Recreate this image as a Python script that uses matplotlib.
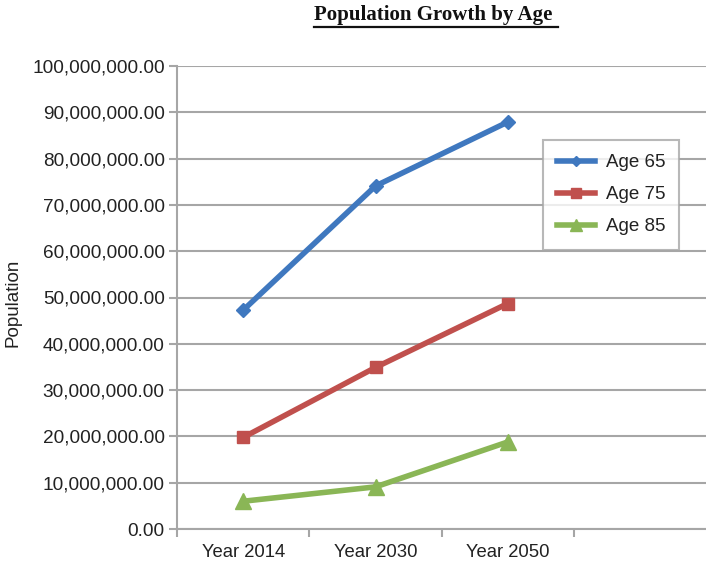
import matplotlib
matplotlib.use("Agg")
import matplotlib.pyplot as plt
from matplotlib.lines import Line2D
from matplotlib.ticker import FuncFormatter, FixedLocator, MultipleLocator

categories = ["Year 2014", "Year 2030", "Year 2050"]
age65 = [47.3e6, 74.1e6, 87.9e6]
age75 = [19.8e6, 34.9e6, 48.7e6]
age85 = [6.0e6, 9.1e6, 18.8e6]
series_names = ["Age 65", "Age 75", "Age 85"]

W, H = 706, 562
L, R, T, B = 177.3, 706, 66, 529
fig = plt.figure(figsize=(W/100, H/100), dpi=100)
ax = fig.add_axes([L/W, 1-B/H, (R-L)/W, (B-T)/H])

grid_col = "#a6a6a6"
text_col = "#222222"
x = list(range(len(categories)))
ax.plot(x, age65, color="#3F78BF", lw=4, marker="D", ms=7, label=series_names[0], zorder=3)
ax.plot(x, age75, color="#C0504D", lw=4, marker="s", ms=9, label=series_names[1], zorder=3)
ax.plot(x, age85, color="#8AB656", lw=4, marker="^", ms=11, label=series_names[2], zorder=3)

ax.set_xlim(-0.5, 3.5)
ax.set_ylim(0, 100e6)
ax.yaxis.set_major_locator(MultipleLocator(10e6))
ax.yaxis.set_major_formatter(FuncFormatter(lambda v, p: f"{v:,.2f}"))
ax.xaxis.set_major_locator(FixedLocator(x))
ax.set_xticklabels(categories)
ax.xaxis.set_minor_locator(FixedLocator([-0.5, 0.5, 1.5, 2.5]))
ax.tick_params(axis="x", which="major", length=0, labelsize=13.3, pad=11, colors=text_col)
ax.tick_params(axis="x", which="minor", length=6, width=1.5, color=grid_col)
ax.tick_params(axis="y", which="major", length=6, width=1.5, color=grid_col, labelsize=13.7,
               labelcolor=text_col, pad=3)
ax.grid(axis="y", color=grid_col, lw=1.5)
for s in ["top", "right"]:
    ax.spines[s].set_visible(False)
for s in ["left", "bottom"]:
    ax.spines[s].set_color(grid_col)
    ax.spines[s].set_linewidth(1.5)
ax.set_axisbelow(True)

for lab in ax.get_xticklabels() + ax.get_yticklabels():
    lab.set_family("Liberation Sans")

fig.text(13/W, 1-303/H, "Population", rotation=90, ha="center", va="center",
         fontsize=13.5, family="Liberation Sans", color=text_col)

leg = ax.legend(loc="upper left", bbox_to_anchor=((543-L)/(R-L), 1-(140-T)/(B-T)),
                frameon=True, fancybox=False, prop={"family": "Liberation Sans", "size": 13.5},
                handlelength=2.0, handletextpad=0.6, borderpad=0.75, labelspacing=0.8,
                borderaxespad=0, markerscale=0.8)
leg.get_frame().set_edgecolor(grid_col)
leg.get_frame().set_linewidth(1.5)
for txt in leg.get_texts():
    txt.set_color(text_col)

t = fig.text(433/W, 1-15/H, "Population Growth by Age", ha="center", va="center",
             fontsize=15, fontweight="bold", family="Liberation Serif", color="#111111")
fig.canvas.draw()
bb = t.get_window_extent()
fig.add_artist(Line2D([bb.x0/W, (bb.x1+6)/W], [1-27/H, 1-27/H],
                      transform=fig.transFigure, color="#111111", lw=1.6))

fig.savefig("out.png", dpi=100)
